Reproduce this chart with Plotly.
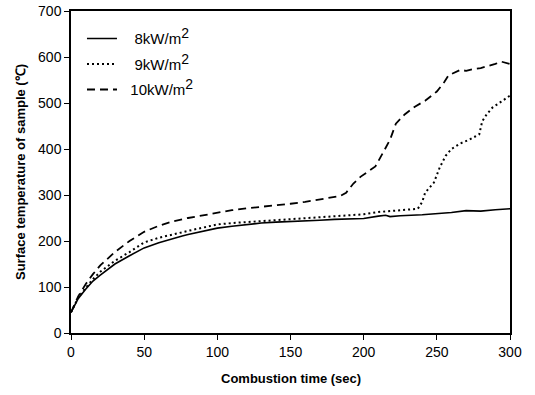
import plotly.graph_objects as go

# Combustion time (sec) and surface temperature (°C)
t_8 = [0, 5, 10, 15, 20, 25, 30, 40, 50, 60, 70, 76, 80, 90, 100, 110, 120, 130, 140,
       150, 160, 170, 180, 190, 195, 200, 210, 215, 218, 225, 240, 250, 260, 270, 275,
       280, 290, 300]
temp_8 = [45, 75, 95, 113, 126, 139, 150, 168, 185, 196, 206, 211, 214, 221, 228, 232,
          236, 239, 241, 242, 244, 245, 247, 248, 247, 249, 254, 256, 253, 255, 257, 259,
          262, 266, 266, 265, 268, 270]

t_9 = [0, 5, 10, 15, 20, 25, 30, 40, 50, 60, 70, 80, 90, 100, 110, 120, 130, 140, 150,
       160, 170, 180, 190, 200, 210, 220, 230, 237, 240, 242, 248, 252, 256, 260, 266,
       272, 279, 281, 284, 288, 294, 300]
temp_9 = [45, 77, 98, 117, 133, 146, 157, 176, 197, 207, 215, 222, 229, 236, 239, 241,
          243, 245, 247, 249, 251, 253, 255, 258, 263, 266, 268, 270, 285, 305, 327, 360,
          385, 400, 412, 420, 432, 460, 475, 490, 503, 516]

t_10 = [0, 5, 10, 15, 20, 25, 30, 40, 50, 60, 70, 80, 90, 100, 110, 120, 130, 140, 150,
        160, 170, 180, 184, 188, 193, 198, 205, 208, 212, 218, 222, 228, 235, 242, 250,
        255, 258, 262, 266, 270, 275, 280, 285, 290, 294, 297, 300]
temp_10 = [45, 80, 106, 128, 147, 162, 176, 200, 220, 233, 243, 250, 256, 262, 267, 271,
           274, 277, 281, 285, 290, 295, 298, 305, 325, 340, 355, 362, 385, 420, 455, 475,
           492, 505, 525, 545, 560, 566, 572, 570, 574, 576, 580, 585, 590, 588, 585]

SUP = "<sup><span style='font-size:14px'>2</span></sup>"
names = ["\u00a0\u00a0\u00a08kW/m" + SUP, "\u00a0\u00a0\u00a09kW/m" + SUP,
         "\u00a0\u00a010kW/m" + SUP]

x_ticks = [0, 50, 100, 150, 200, 250, 300]
y_ticks = [0, 100, 200, 300, 400, 500, 600, 700]
x_title = "<b>Combustion time (sec)</b>"
y_title = "<b>Surface temperature of sample (\u2103)</b>"

FONT = "Liberation Sans, Arial, sans-serif"

fig = go.Figure()
fig.add_trace(go.Scatter(x=t_8, y=temp_8, mode="lines", name=names[0], legendgroup="a",
                         line=dict(color="black", width=1.6, dash="solid")))
fig.add_trace(go.Scatter(x=t_9, y=temp_9, mode="lines", name=names[1], legendgroup="b",
                         line=dict(color="black", width=2, dash="2px,3px")))
fig.add_trace(go.Scatter(x=t_10, y=temp_10, mode="lines", name=names[2], legendgroup="c",
                         line=dict(color="black", width=1.8, dash="8px,5px")))

fig.update_layout(
    width=535, height=395,
    margin=dict(l=71, r=25, t=11, b=62, autoexpand=False),
    paper_bgcolor="white", plot_bgcolor="white",
    font=dict(family=FONT, color="black", size=14),
    showlegend=True,
    hovermode=False,
    legend=dict(x=0.025, y=0.965, xanchor="left", yanchor="top",
                bgcolor="rgba(0,0,0,0)", font=dict(size=15, family=FONT),
                tracegroupgap=3),
    xaxis=dict(range=[0, 300], tickvals=x_ticks, ticks="outside", ticklen=5,
               tickwidth=1, tickcolor="black", showline=True, linecolor="black",
               linewidth=1.5, mirror=True, showgrid=False, zeroline=False,
               automargin=False, tickfont=dict(size=14)),
    yaxis=dict(range=[0, 700], tickvals=y_ticks, ticks="outside", ticklen=5,
               tickwidth=1, tickcolor="black", showline=True, linecolor="black",
               linewidth=1.5, mirror=True, showgrid=False, zeroline=False,
               automargin=False, tickfont=dict(size=14), ticklabeloverflow="allow"),
    annotations=[
        dict(text=x_title, xref="paper", yref="paper", x=0.5, y=0,
             xanchor="center", yanchor="middle", yshift=-45, showarrow=False,
             font=dict(size=13)),
        dict(text=y_title, xref="paper", yref="paper", x=0, y=0.5,
             xanchor="center", yanchor="middle", xshift=-51, textangle=-90,
             showarrow=False, font=dict(size=13)),
    ],
)

fig.write_html("out.html", config={"displayModeBar": False},
               post_script="document.body.style.margin='0';")
